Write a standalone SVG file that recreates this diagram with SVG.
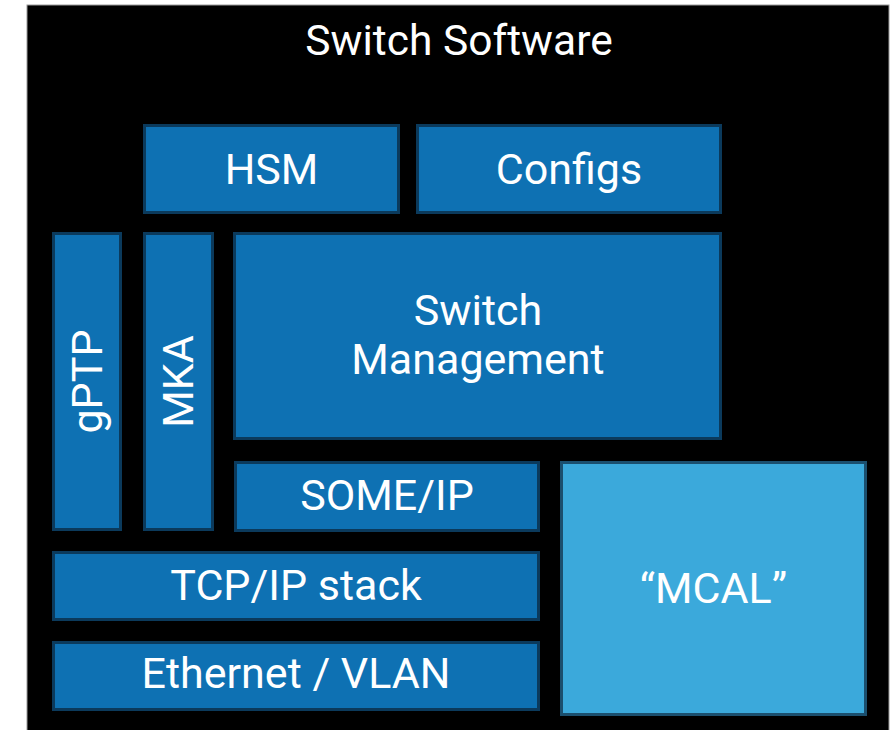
<svg xmlns="http://www.w3.org/2000/svg" width="892" height="730" viewBox="0 0 892 730">
  <style>
    .blk { fill: #0E71B3; stroke: #0B3A5C; stroke-width: 3; }
    .hw { fill: #3BA9DB; stroke: #1B4F6E; stroke-width: 3; }
    text { font-family: Roboto, "Liberation Sans", sans-serif; fill: #FFFFFF; text-anchor: middle; }
    .lbl { font-size: 43px; }
    .ttl { font-size: 42.5px; }
  </style>
  <rect x="0" y="0" width="892" height="730" fill="#FFFFFF"/>
  <rect id="frame" x="27" y="5" width="862" height="730" fill="#000000" stroke="#9A9A9A" stroke-width="1"/>
  <text class="ttl" x="459" y="55">Switch Software</text>

  <g id="hsm"><rect class="blk" x="144.5" y="125.5" width="254" height="87"/><text class="lbl" x="271.5" y="184">HSM</text></g>
  <g id="configs"><rect class="blk" x="417.5" y="125.5" width="303" height="87"/><text class="lbl" x="569" y="184">Configs</text></g>
  <g id="gptp"><rect class="blk" x="53.5" y="233.5" width="67" height="296"/><text class="lbl" transform="translate(102 381.5) rotate(-90)">gPTP</text></g>
  <g id="mka"><rect class="blk" x="144.5" y="233.5" width="68" height="296"/><text class="lbl" transform="translate(193 381.5) rotate(-90)">MKA</text></g>
  <g id="switch-management"><rect class="blk" x="234.5" y="233.5" width="486" height="205"/><text class="lbl" x="478" y="325">Switch</text><text class="lbl" x="478" y="374">Management</text></g>
  <g id="someip"><rect class="blk" x="235.5" y="462.5" width="303" height="68"/><text class="lbl" x="387" y="510">SOME/IP</text></g>
  <g id="tcpip"><rect class="blk" x="53.5" y="552.5" width="485" height="67"/><text class="lbl" x="296" y="600">TCP/IP stack</text></g>
  <g id="ethernet"><rect class="blk" x="53.5" y="642.5" width="485" height="67"/><text class="lbl" x="296" y="688">Ethernet / VLAN</text></g>
  <g id="mcal"><rect class="hw" x="561.5" y="462.5" width="304" height="252"/><text class="lbl" x="713.5" y="603">“MCAL”</text></g>
  <g id="connectors"/>
</svg>
